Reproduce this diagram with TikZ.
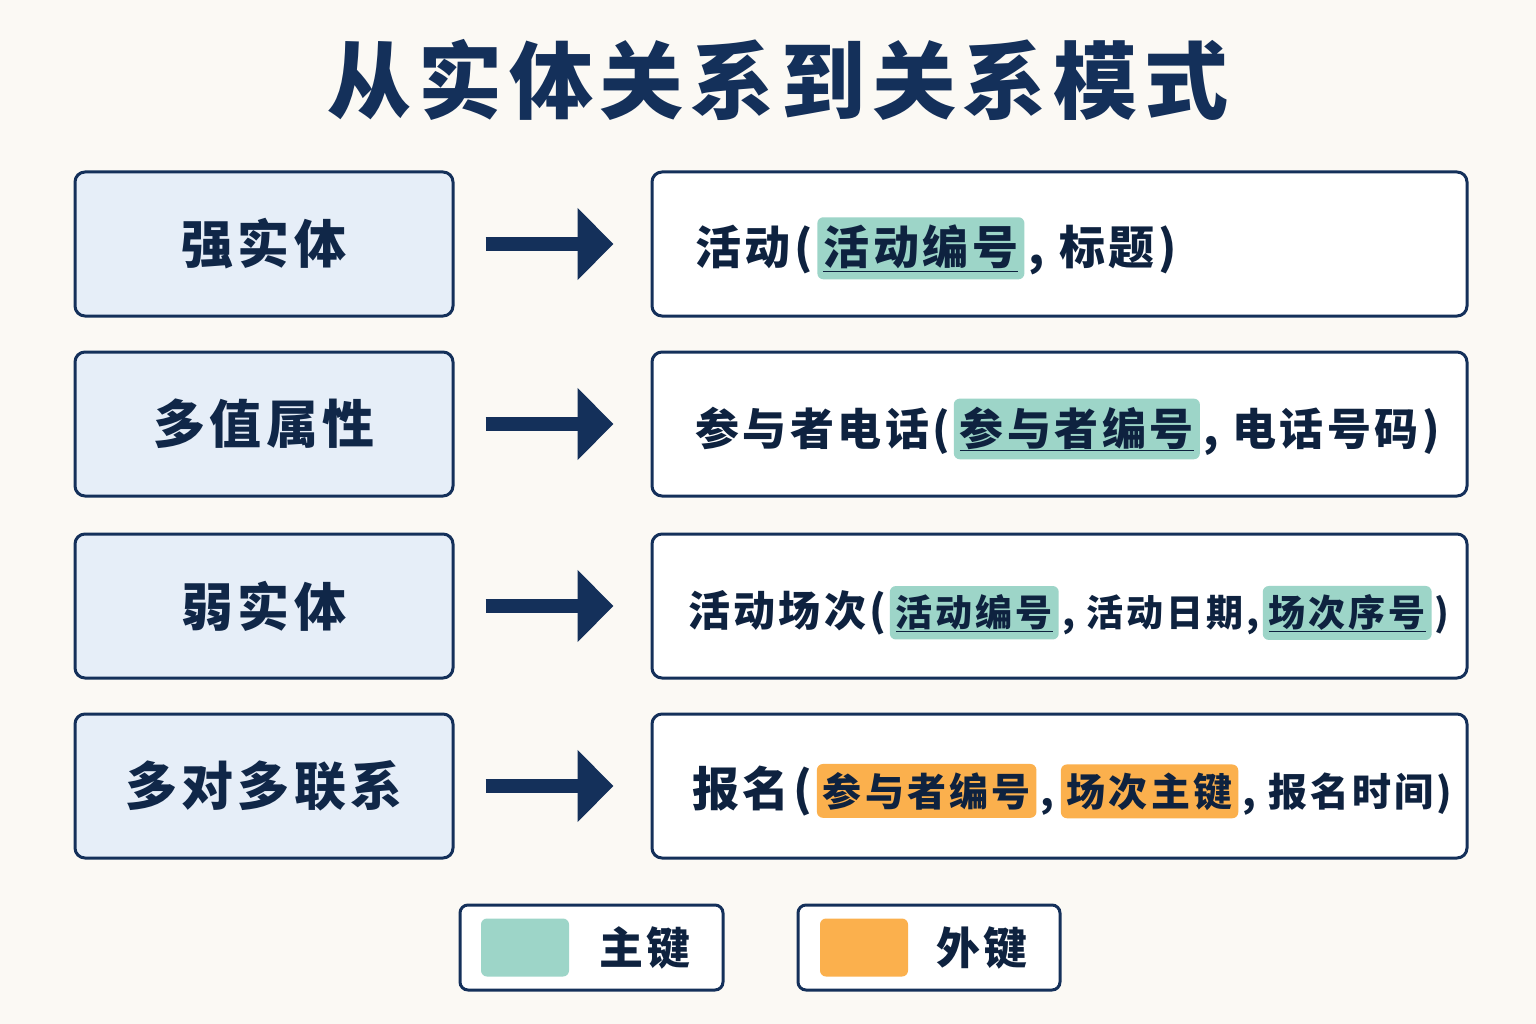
\documentclass[tikz,border=0pt]{standalone}
\usepackage{fontspec}
\newfontfamily\cjk{Noto Sans CJK SC}[LetterSpace=8]
\usetikzlibrary{arrows.meta,positioning}
\definecolor{navy}{HTML}{14305A}
\definecolor{paper}{HTML}{FBF9F4}
\definecolor{pale}{HTML}{E6EEF8}
\definecolor{pkgreen}{HTML}{9DD5C8}
\definecolor{fkorange}{HTML}{FBB04D}
\newcommand{\fs}[1]{\fontsize{#1}{#1}\selectfont}
\begin{document}
\begin{tikzpicture}[x=1pt,y=-1pt,
  lbox/.style={draw=navy,line width=3pt,rounded corners=10pt,fill=pale,minimum width=378pt,minimum height=144pt,text=navy!80!black,font=\cjk\bfseries\fs{52}},
  rbox/.style={draw=navy,line width=3pt,rounded corners=10pt,fill=white,minimum width=815pt,minimum height=144pt},
  txt/.style={inner sep=0pt,text=navy!70!black,font=\cjk\bfseries\fs{#1}},
  key/.style={txt=#1,fill=pkgreen,rounded corners=6pt,inner xsep=6pt,inner ysep=8pt},
  fkey/.style={txt=#1,fill=fkorange,rounded corners=6pt,inner xsep=6pt,inner ysep=8pt},
  bigarrow/.style={navy,line width=14pt,-{Triangle[length=36pt,width=70pt]},shorten <=31pt,shorten >=37pt},
  node distance=4pt]
\fill[paper] (0,0) rectangle (1536,1024);
% title
\node[txt=84,text=navy] (title) at (778,80) {从实体关系到关系模式};
% left column and right column
\node[lbox] (l1) at (264,244) {强实体};
\node[lbox] (l2) at (264,424) {多值属性};
\node[lbox] (l3) at (264,606) {弱实体};
\node[lbox] (l4) at (264,786) {多对多联系};
\node[rbox] (r1) at (1059.5,244) {};
\node[rbox] (r2) at (1059.5,424) {};
\node[rbox] (r3) at (1059.5,606) {};
\node[rbox] (r4) at (1059.5,786) {};
\foreach \i in {1,...,4}
  \draw[bigarrow] (l\i.east) -- (r\i.west);
% row 1
\node[txt=46,anchor=base west] (t1a) at (695,265) {活动(};
\node[key=46,base right=4pt of t1a] (t1b) {\underline{活动编号}};
\node[txt=46,base right=4pt of t1b] (t1c) {, 标题)};
% row 2
\node[txt=44,anchor=base west] (t2a) at (695,445) {参与者电话(};
\node[key=44,base right=3pt of t2a] (t2b) {\underline{参与者编号}};
\node[txt=44,base right=3pt of t2b] (t2c) {, 电话号码)};
% row 3
\node[txt=42,anchor=base west] (t3a) at (688,626) {活动场次(};
\node[key=37,base right=3pt of t3a] (t3b) {\underline{活动编号}};
\node[txt=37,base right=3pt of t3b] (t3c) {, 活动日期,};
\node[key=37,base right=3pt of t3c] (t3d) {\underline{场次序号}};
\node[txt=37,base right=2pt of t3d] (t3e) {)};
% row 4
\node[txt=47,anchor=base west] (t4a) at (692,806) {报名(};
\node[fkey=39,base right=4pt of t4a] (t4b) {参与者编号};
\node[txt=39,base right=4pt of t4b] (t4c) {,};
\node[fkey=39,base right=6pt of t4c] (t4d) {场次主键};
\node[txt=39,base right=4pt of t4d] (t4e) {, 报名时间)};
% legend
\node[draw=navy,line width=3pt,rounded corners=8pt,fill=white,minimum width=263pt,minimum height=85pt] (g1) at (591.5,947.5) {};
\node[draw=navy,line width=3pt,rounded corners=8pt,fill=white,minimum width=262pt,minimum height=85pt] (g2) at (929,947.5) {};
\node[fill=pkgreen,rounded corners=6pt,minimum width=88pt,minimum height=58pt] (s1) at (525,947.5) {};
\node[fill=fkorange,rounded corners=6pt,minimum width=88pt,minimum height=58pt] (s2) at (864,947.5) {};
\node[txt=44] (k1) at (645,947.5) {主键};
\node[txt=44] (k2) at (982,947.5) {外键};
\end{tikzpicture}
\end{document}
